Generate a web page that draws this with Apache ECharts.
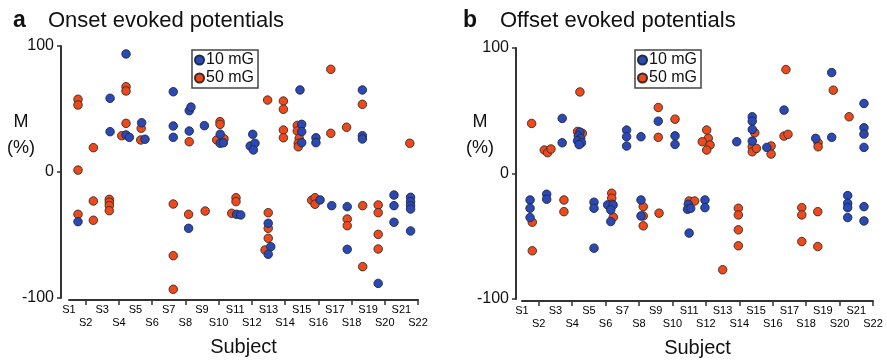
<!DOCTYPE html>
<html>
<head>
<meta charset="utf-8">
<script src="https://cdn.jsdelivr.net/npm/echarts@6/dist/echarts.min.js"></script>
<style>
  html, body { margin: 0; padding: 0; background: #fff; }
  #chart { width: 887px; height: 363px; }
</style>
</head>
<body>
<div id="chart"></div>
<script>
// Subject categories on the x axis
const subjects = ['S1', 'S2', 'S3', 'S4', 'S5', 'S6', 'S7', 'S8', 'S9', 'S10', 'S11',
  'S12', 'S13', 'S14', 'S15', 'S16', 'S17', 'S18', 'S19', 'S20', 'S21', 'S22']

// [subject (with small jitter), M %]
const onset10 = [
  [4.04, 93.7], [3.03, 58.5], [3.03, 32], [4.04, 29.4], [4.25, 27.5], [5.03, 39.1], [5.24, 26],
  [7.03, 63.7], [7.03, 36.5], [7.03, 27.5], [8.04, 48.7], [8.15, 51.5], [8.04, 32.5], [9.0, 36.8],
  [10.0, 30], [10.0, 22.8], [10.2, 23.2], [12.06, 29.9], [11.9, 20.6], [12.2, 22.8], [12.1, 17.5],
  [15.05, 65.1], [15.16, 37.8], [15.16, 32], [15.16, 23.3], [16.06, 27.2], [16.06, 23.3],
  [19.0, 65.1], [19.0, 28.8], [19.0, 26.2],
  [1.0, -39.4], [8.0, -44.7], [11.04, -33.6], [11.3, -34.1], [13.04, -40.7], [13.2, -59.3],
  [13.04, -65.3], [16.32, -22.2], [17.06, -26.7], [18.04, -27.5], [18.04, -61.4], [20.0, -88.4],
  [21.0, -18.3], [21.0, -26.7], [21.0, -39.9], [22.05, -20.1], [22.05, -23.5], [22.05, -26.7],
  [22.05, -29.4], [22.05, -46.8]
]
const onset50 = [
  [1.0, 57.7], [1.0, 53.2], [1.0, 1.5], [1.97, 19.3], [4.04, 67.7], [4.04, 64.3], [4.04, 38.6],
  [3.77, 28.8], [5.0, 34.7], [4.97, 25.4], [8.04, 24], [9.99, 40], [9.99, 37.8], [9.78, 25.4],
  [10.24, 26.4], [13.0, 57.1], [14.0, 56.3], [14.0, 49.8], [14.0, 33.3], [14.0, 27.2],
  [14.88, 37], [14.88, 32.5], [15.0, 26.7], [14.94, 22.8], [14.94, 20], [17.0, 81.5], [17.0, 30.7],
  [18.0, 35.5], [19.0, 53.7], [22.0, 22.8],
  [1.0, -33.6], [1.97, -23], [1.97, -38.3], [2.98, -21.7], [2.98, -24], [2.98, -26.7], [2.98, -30.7],
  [7.03, -25.4], [7.03, -66.4], [7.03, -93.1], [8.0, -33.6], [9.05, -31], [11.0, -20.4],
  [11.0, -23.5], [10.73, -32.8], [13.04, -32.3], [13.04, -44.7], [13.04, -52.6], [12.84, -61.9],
  [15.79, -22.4], [16.0, -20.4], [16.0, -25.6], [18.04, -37.3], [18.04, -42.6], [19.02, -26.7],
  [19.02, -75.1], [20.0, -26.2], [20.0, -32.3], [20.0, -49.5], [20.0, -61.1]
]
const offset10 = [
  [2.93, 43.9], [2.93, 24.5], [4.05, 33], [3.95, 30], [4.1, 28], [3.9, 26], [4.15, 24.5], [4.0, 23],
  [7.0, 34.6], [7.0, 29.3], [7.0, 21.9], [7.91, 29.3], [9.0, 41.7], [10.06, 30], [10.06, 23.2],
  [13.96, 25.3], [14.94, 45.2], [14.94, 41.7], [14.94, 35.1], [14.94, 25.8], [15.86, 20.8],
  [16.95, 50.5], [18.95, 28], [19.96, 80.4], [19.96, 28.8], [22.0, 55.8], [22.0, 36.4],
  [22.0, 31.4], [22.0, 20.8],
  [0.9, -21.1], [0.9, -27.7], [0.9, -35.1], [1.95, -16.5], [1.95, -20.5], [4.94, -22.9],
  [4.94, -27.7], [4.94, -59.5], [5.8, -25], [6.15, -25], [6.0, -29], [6.0, -38.3], [7.91, -21.1],
  [7.91, -33.8], [10.9, -24.5], [10.85, -28.5], [11.05, -27.7], [10.95, -47.5], [11.95, -21.1],
  [11.95, -27.2], [20.97, -17.6], [20.97, -23.7], [20.97, -27.2], [20.97, -35.1], [22.0, -26.4],
  [22.0, -37.8]
]
const offset50 = [
  [1.0, 39.9], [1.8, 18.7], [2.01, 16.6], [2.22, 19.5], [4.05, 65], [3.9, 33.5], [4.2, 32],
  [9.0, 52.6], [9.0, 28.8], [10.06, 43.3], [12.06, 34.6], [12.16, 28], [11.78, 25.3],
  [12.27, 22.7], [12.06, 18.7], [15.1, 32.4], [14.94, 21.3], [14.94, 17.3], [15.2, 20],
  [16.13, 21.9], [16.13, 15.5], [17.07, 82.8], [16.95, 29.8], [17.2, 31.2], [19.1, 24.5],
  [19.1, 21.3], [20.06, 66.4], [21.06, 45.2],
  [1.04, -38.8], [1.04, -61.6], [3.04, -21.1], [3.04, -30.4], [6.06, -15.7], [6.06, -19.7],
  [6.06, -24.5], [6.16, -34.8], [8.05, -26.4], [8.05, -33.8], [8.05, -41.7], [9.05, -31.6],
  [10.95, -21.9], [11.3, -21.9], [13.07, -76.7], [14.06, -27.7], [14.06, -33], [14.06, -44.9],
  [14.06, -57.6], [18.07, -27.2], [18.07, -33], [18.07, -54.2], [19.08, -30.4], [19.08, -58.2]
]

const FONT = 'Liberation Sans, Arial, Helvetica, sans-serif'
const BLUE = '#2b48b4'
const RED = '#ec4a1c'
const AXIS = '#333'

const chart = echarts.init(document.getElementById('chart'))

const panels = [
  { letter: 'a', title: 'Onset evoked potentials', blue: onset10, red: onset50,
    grid: { left: 69, top: 46, width: 349, height: 252 }, xMin: 0.43, xMax: 22.52,
    yOffset: 8, legend: { left: 192, top: 50 }, titleLeft: 8, letterW: 35, mX: 21 },
  { letter: 'b', title: 'Offset evoked potentials', blue: offset10, red: offset50,
    grid: { left: 522, top: 48, width: 351, height: 251 }, xMin: 0.39, xMax: 22.57,
    yOffset: 6, legend: { left: 635, top: 50 }, titleLeft: 458, letterW: 37, mX: 480 }
]

const option = {
  animation: false,
  textStyle: { fontFamily: FONT },
  title: [],
  legend: [],
  grid: [],
  xAxis: [],
  yAxis: [],
  series: [],
  graphic: []
}

panels.forEach((p, i) => {
  option.title.push({
    left: p.titleLeft,
    top: 4,
    text: '{l|' + p.letter + '}{t|' + p.title + '}',
    textStyle: {
      fontWeight: 'normal',
      rich: {
        l: { fontFamily: FONT, fontSize: 23, fontWeight: 'bold', color: '#111', width: p.letterW },
        t: { fontFamily: FONT, fontSize: 22, fontWeight: 'normal', color: '#111' }
      }
    }
  })

  option.legend.push({
    left: p.legend.left,
    top: p.legend.top,
    orient: 'vertical',
    data: ['10 mG', '50 mG'],
    icon: 'circle',
    itemWidth: 9,
    itemHeight: 9,
    itemGap: 2,
    padding: [2, 4, 2, 2],
    borderColor: '#444',
    borderWidth: 1.5,
    textStyle: { fontFamily: FONT, fontSize: 16, color: '#111', padding: [0, 0, 0, -3] },
    selectedMode: false
  })

  option.grid.push(Object.assign({ containLabel: false }, p.grid))

  // category axis: labels and ticks
  option.xAxis.push({
    type: 'category',
    gridIndex: i,
    data: subjects,
    boundaryGap: false,
    offset: 2,
    axisLine: { onZero: false, lineStyle: { color: AXIS, width: 2 } },
    axisTick: { show: true, length: 5, interval: (idx) => idx % 2 === 1, lineStyle: { color: AXIS, width: 1.5 } },
    axisLabel: {
      interval: 0,
      margin: 3,
      fontFamily: FONT,
      fontSize: 11,
      lineHeight: 13,
      color: '#000',
      formatter: (v, idx) => (idx % 2 === 1 ? '\n' + v : v)
    },
    splitLine: { show: false },
    name: 'Subject',
    nameLocation: 'middle',
    nameGap: 37,
    nameTextStyle: { fontFamily: FONT, fontSize: 20, color: '#111' }
  })
  // value axis used to place the points
  option.xAxis.push({
    type: 'value',
    gridIndex: i,
    min: p.xMin,
    max: p.xMax,
    show: false
  })

  option.yAxis.push({
    type: 'value',
    gridIndex: i,
    min: -100,
    max: 100,
    interval: 100,
    offset: p.yOffset,
    axisLine: { show: true, lineStyle: { color: AXIS, width: 2 } },
    axisTick: { show: true, length: 4, lineStyle: { color: AXIS, width: 1.5 } },
    axisLabel: { fontFamily: FONT, fontSize: 16, color: '#111', margin: 7 },
    splitLine: { show: false }
  })

  const common = {
    type: 'scatter',
    xAxisIndex: i * 2 + 1,
    yAxisIndex: i,
    symbolSize: 8.5,
    emphasis: { disabled: true }
  }
  option.series.push(Object.assign({}, common, {
    name: '50 mG',
    data: p.red,
    itemStyle: { color: RED, borderColor: '#3a2a22', borderWidth: 0.9, opacity: 1 }
  }))
  option.series.push(Object.assign({}, common, {
    name: '10 mG',
    data: p.blue,
    itemStyle: { color: BLUE, borderColor: '#1f2a44', borderWidth: 0.9, opacity: 1 }
  }))

  option.graphic.push({
    type: 'text',
    x: p.mX,
    y: 109,
    style: {
      text: 'M\n(%)',
      font: '18px ' + FONT,
      fill: '#111',
      textAlign: 'center',
      textVerticalAlign: 'top',
      lineHeight: 26
    }
  })
})

chart.setOption(option)
</script>
</body>
</html>
